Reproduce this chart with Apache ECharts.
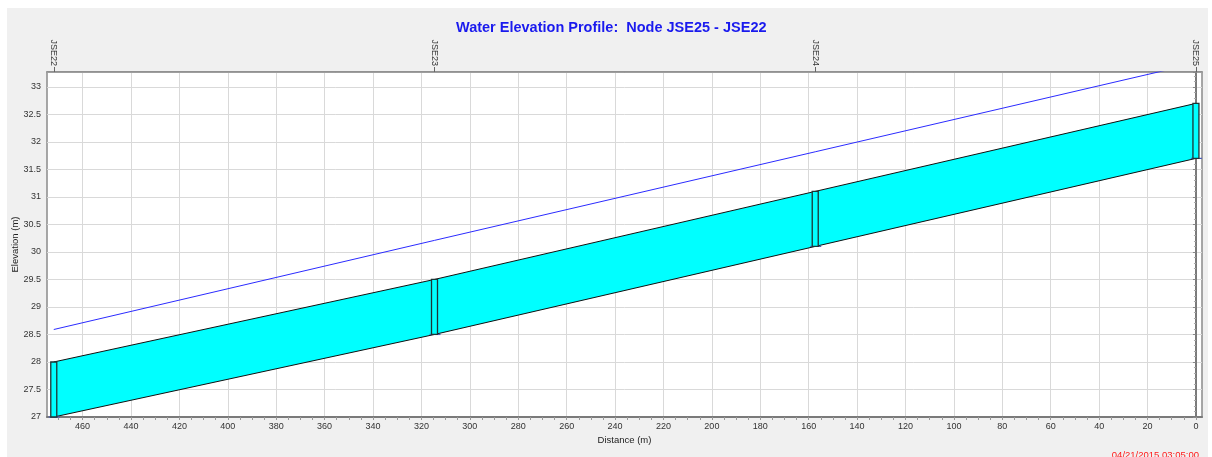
<!DOCTYPE html>
<html>
<head>
<meta charset="utf-8">
<script src="https://cdn.jsdelivr.net/npm/echarts@6/dist/echarts.min.js"></script>
<style>
  html, body { margin: 0; padding: 0; background: #ffffff; }
  #panel { position: absolute; left: 7px; top: 8px; width: 1201px; height: 449px; background: #f0f0f0; }
  #chart { position: absolute; left: 0; top: 0; width: 1212px; height: 457px; }
</style>
</head>
<body>
<div id="panel"></div>
<div id="chart"></div>
<script>
// Profile nodes, ordered from upstream (distance 0) to downstream
const nodeNames    = ['JSE25', 'JSE24', 'JSE23', 'JSE22'];
const nodeDistance = [0, 157.3, 314.6, 471.9];
// Conduit invert and crown elevations at each node (m)
const invertElev   = [31.7, 30.1, 28.5, 27.0];
const crownElev    = [32.7, 31.1, 29.5, 28.0];
// Water surface elevation at each node (m)
const waterElev    = [33.43, 31.82, 30.21, 28.59];

// Axis ticks
const distanceTicks = [0, 20, 40, 60, 80, 100, 120, 140, 160, 180, 200, 220, 240,
  260, 280, 300, 320, 340, 360, 380, 400, 420, 440, 460];
const distanceMinorTicks = [0, 5, 10, 15, 20, 25, 30, 35, 40, 45, 50, 55, 60, 65, 70, 75,
  80, 85, 90, 95, 100, 105, 110, 115, 120, 125, 130, 135, 140, 145, 150, 155, 160, 165,
  170, 175, 180, 185, 190, 195, 200, 205, 210, 215, 220, 225, 230, 235, 240, 245, 250,
  255, 260, 265, 270, 275, 280, 285, 290, 295, 300, 305, 310, 315, 320, 325, 330, 335,
  340, 345, 350, 355, 360, 365, 370, 375, 380, 385, 390, 395, 400, 405, 410, 415, 420,
  425, 430, 435, 440, 445, 450, 455, 460, 465, 470];

const titleText = 'Water Elevation Profile:  Node JSE25 - JSE22';
const timeStamp = '04/21/2015 03:05:00';

// Build conduit segments (node i -> node i+1) and node rows
const conduits = [];
for (let i = 0; i < nodeDistance.length - 1; i++) {
  conduits.push([nodeDistance[i], invertElev[i], crownElev[i],
                 nodeDistance[i + 1], invertElev[i + 1], crownElev[i + 1]]);
}
const nodes = nodeDistance.map((d, i) => [d, invertElev[i], crownElev[i]]);
const water = nodeDistance.map((d, i) => [d, waterElev[i]]);

const xMin = -2.5, xMax = 474.7;
const FONT = 'Liberation Sans, Arial, sans-serif';

const chart = echarts.init(document.getElementById('chart'), null, { renderer: 'canvas' });

chart.setOption({
  backgroundColor: 'transparent',
  animation: false,
  title: {
    text: titleText,
    left: 451,
    top: 15,
    textStyle: { color: '#1a1aee', fontSize: 14.5, fontWeight: 'bold', fontFamily: FONT }
  },
  grid: {
    left: 47, right: 10, top: 72, bottom: 40,
    outerBoundsMode: 'none', containLabel: false,
    show: true, backgroundColor: '#ffffff', borderColor: '#8a8a8a', borderWidth: 1.5
  },
  xAxis: [
    {
      type: 'value', position: 'bottom', inverse: true, min: xMin, max: xMax,
      name: 'Distance (m)', nameLocation: 'middle', nameGap: 18, nameMoveOverlap: false,
      nameTextStyle: { color: '#222', fontSize: 9.5, fontFamily: FONT },
      axisLine: { show: true, lineStyle: { color: '#7a7a7a', width: 2 } },
      axisTick: { show: true, customValues: distanceTicks, length: 3, lineStyle: { color: '#888' } },
      axisLabel: { customValues: distanceTicks, margin: 5, color: '#333', fontSize: 9, fontFamily: FONT },
      splitLine: { show: true, lineStyle: { color: '#d9d9d9', width: 1 } }
    },
    {
      type: 'value', position: 'bottom', inverse: true, min: xMin, max: xMax,
      axisLine: { show: false },
      axisTick: { show: true, customValues: distanceMinorTicks, length: 3, lineStyle: { color: '#999' } },
      axisLabel: { show: false },
      splitLine: { show: false }
    },
    {
      type: 'value', position: 'top', inverse: true, min: xMin, max: xMax,
      axisLine: { show: true, lineStyle: { color: '#8a8a8a', width: 1.5 } },
      axisTick: { show: true, customValues: nodeDistance, length: 5, lineStyle: { color: '#666' } },
      axisLabel: {
        customValues: nodeDistance, rotate: 90, margin: 6, color: '#333', fontSize: 9, fontFamily: FONT,
        formatter: function (v) {
          let best = 0;
          nodeDistance.forEach((d, i) => { if (Math.abs(d - v) < Math.abs(nodeDistance[best] - v)) best = i; });
          return nodeNames[best];
        }
      },
      splitLine: { show: false }
    }
  ],
  yAxis: {
    type: 'value', min: 27, max: 33.27, interval: 0.5,
    name: 'Elevation (m)', nameLocation: 'middle', nameGap: 27, nameMoveOverlap: false,
    nameTextStyle: { color: '#222', fontSize: 9.5, fontFamily: FONT },
    axisLine: { show: true, lineStyle: { color: '#7a7a7a', width: 2 } },
    axisTick: { show: true, length: 3, lineStyle: { color: '#888' } },
    minorTick: { show: true, splitNumber: 5, length: 2, lineStyle: { color: '#aaa' } },
    axisLabel: { margin: 6, color: '#333', fontSize: 9, fontFamily: FONT, showMaxLabel: false },
    splitLine: { show: true, lineStyle: { color: '#d9d9d9', width: 1 } }
  },
  series: [
    {
      // Conduit barrels between nodes
      type: 'custom',
      xAxisIndex: 0,
      data: conduits,
      encode: { x: [0, 3], y: [1, 2, 4, 5] },
      renderItem: function (params, api) {
        const a = api.coord([api.value(0), api.value(1)]);
        const b = api.coord([api.value(3), api.value(4)]);
        const c = api.coord([api.value(3), api.value(5)]);
        const d = api.coord([api.value(0), api.value(2)]);
        return {
          type: 'polygon',
          shape: { points: [a, b, c, d] },
          style: { fill: '#00ffff', stroke: '#111', lineWidth: 1 }
        };
      },
      z: 2
    },
    {
      // Water surface line
      type: 'line',
      xAxisIndex: 0,
      data: water,
      symbol: 'none',
      lineStyle: { color: '#2b2bff', width: 1 },
      z: 3
    },
    {
      // Node (manhole) boxes
      type: 'custom',
      xAxisIndex: 0,
      data: nodes,
      encode: { x: 0, y: [1, 2] },
      renderItem: function (params, api) {
        const bot = api.coord([api.value(0), api.value(1)]);
        const top = api.coord([api.value(0), api.value(2)]);
        const w = 6;
        return {
          type: 'group',
          children: [
            {
              type: 'line',
              shape: { x1: bot[0] - 5, y1: bot[1], x2: bot[0] + 6, y2: bot[1] },
              style: { stroke: '#4a5ab8', lineWidth: 1.2 }
            },
            {
              type: 'rect',
              shape: { x: bot[0] - w / 2, y: top[1], width: w, height: bot[1] - top[1] },
              style: { fill: '#00ffff', stroke: '#1d3535', lineWidth: 1.3 }
            }
          ]
        };
      },
      z: 4
    }
  ],
  graphic: [
    {
      type: 'text', right: 13, top: 450,
      style: { text: timeStamp, fill: '#ff1a1a', font: '9.5px ' + FONT }
    }
  ]
});
</script>
</body>
</html>
